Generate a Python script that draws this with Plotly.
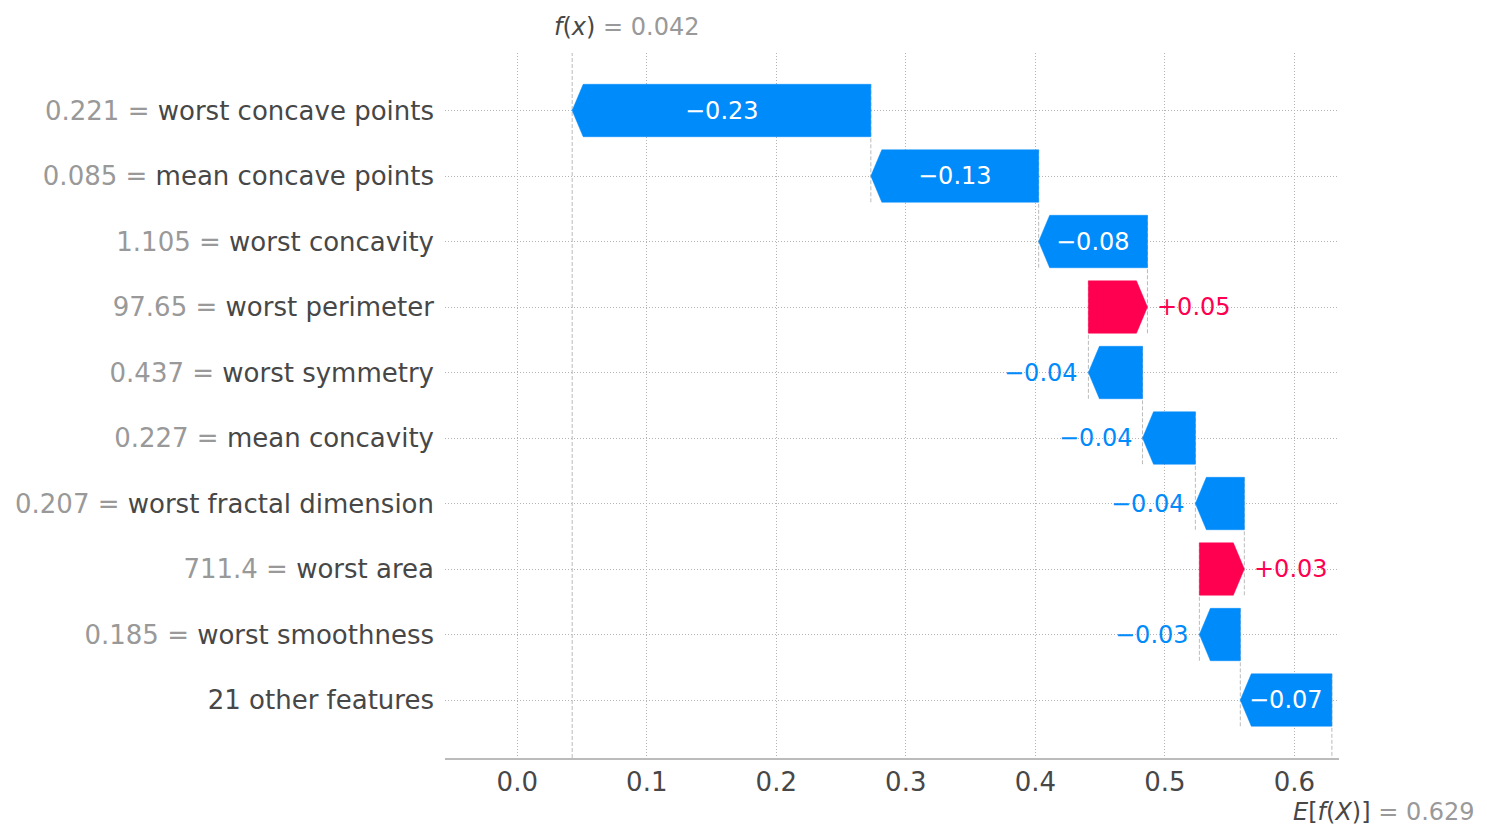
import plotly.graph_objects as go

# ---------------- data ----------------
feature_names = ["worst concave points", "mean concave points", "worst concavity",
                 "worst perimeter", "worst symmetry", "mean concavity",
                 "worst fractal dimension", "worst area", "worst smoothness",
                 "21 other features"]
feature_values = ["0.221", "0.085", "1.105", "97.65", "0.437", "0.227",
                  "0.207", "711.4", "0.185", ""]
shap_values = [-0.2306, -0.1296, -0.0840, 0.0456, -0.0418, -0.0408,
               -0.0378, 0.0347, -0.0316, -0.0707]
base_value = 0.629
x_ticks = [0.0, 0.1, 0.2, 0.3, 0.4, 0.5, 0.6]

# ---------------- style ----------------
W, H = 1487, 840
ML, MR, MT, MB = 445, 148, 53, 82
XR = [-0.0558, 0.6345]
YR = [9.885, -0.878]
RED = "#ff0051"
BLUE = "#008bfb"
GRID = "#b4b4b4"
CONN = "#bbbbbb"
DARK = "#474747"
GRAY = "#999999"
FONT = "DejaVu Sans"
BAR_H = 0.4
px_per_unit = (W - ML - MR) / (XR[1] - XR[0])
HEAD = 11 / px_per_unit

n = len(shap_values)
fx = base_value + sum(shap_values)

# cumulative starts/ends (built from the bottom row upwards)
starts = [0.0] * n
ends = [0.0] * n
pos = base_value
for i in range(n - 1, -1, -1):
    starts[i] = pos
    ends[i] = pos + shap_values[i]
    pos = ends[i]

fig = go.Figure()

# connector dashed lines
for i in range(n):
    fig.add_trace(go.Scatter(
        x=[starts[i], starts[i]], y=[i - BAR_H, i + 1 + BAR_H],
        mode="lines", line=dict(color=CONN, width=1, dash="4px,2px"),
        hoverinfo="skip", showlegend=False))

# f(x) line
fig.add_shape(type="line", xref="x", yref="paper", x0=fx, x1=fx, y0=0, y1=1,
              line=dict(color=CONN, width=1, dash="4px,2px"), layer="below")

# bars as arrow polygons
annotations = []
for i, v in enumerate(shap_values):
    lo, hi = min(starts[i], ends[i]), max(starts[i], ends[i])
    head = min(HEAD, hi - lo)
    if v < 0:
        xs = [hi, lo + head, lo, lo + head, hi, hi]
        color = BLUE
    else:
        xs = [lo, hi - head, hi, hi - head, lo, lo]
        color = RED
    ys = [i - BAR_H, i - BAR_H, i, i + BAR_H, i + BAR_H, i - BAR_H]
    fig.add_trace(go.Scatter(x=xs, y=ys, mode="lines", fill="toself",
                             fillcolor=color, line=dict(color=color, width=0.5),
                             hoverinfo="skip", showlegend=False))
    label = f"{v:+.2f}".replace("-", "\u2212")
    text_px = len(label) * 0.6 * 24
    if (hi - lo) * px_per_unit > text_px:
        annotations.append(dict(x=(lo + hi) / 2, y=i, xref="x", yref="y",
                                text=label, showarrow=False,
                                font=dict(family=FONT, size=24, color="white"),
                                xanchor="center", yanchor="middle"))
    else:
        if v < 0:
            annotations.append(dict(x=lo, y=i, xref="x", yref="y", text=label,
                                    showarrow=False, xanchor="right", xshift=-8,
                                    yanchor="middle",
                                    font=dict(family=FONT, size=24, color=color)))
        else:
            annotations.append(dict(x=hi, y=i, xref="x", yref="y", text=label,
                                    showarrow=False, xanchor="left", xshift=8,
                                    yanchor="middle",
                                    font=dict(family=FONT, size=24, color=color)))

# top / bottom labels
annotations.append(dict(x=fx, y=1, xref="x", yref="paper", xanchor="left",
                        yanchor="middle", yshift=26, xshift=-20, showarrow=False,
                        text=f"<i>f</i>(<i>x</i>) <span style='color:{GRAY}'>= {fx:.3f}</span>",
                        font=dict(family=FONT, size=24, color=DARK)))
annotations.append(dict(x=base_value, y=0, xref="x", yref="paper", xanchor="left",
                        yanchor="middle", yshift=-54, xshift=-41, showarrow=False,
                        text=f"<i>E</i>[<i>f</i>(<i>X</i>)] <span style='color:{GRAY}'>= {base_value:.3f}</span>",
                        font=dict(family=FONT, size=24, color=DARK)))

ticktext = []
for val, name in zip(feature_values, feature_names):
    if val:
        ticktext.append(f"<span style='color:{GRAY}'>{val} =</span> {name}")
    else:
        ticktext.append(name)

fig.update_layout(
    width=W, height=H,
    margin=dict(l=ML, r=MR, t=MT, b=MB, pad=0),
    plot_bgcolor="white", paper_bgcolor="white",
    font=dict(family=FONT, color=DARK),
    annotations=annotations,
    xaxis=dict(range=XR, tickvals=x_ticks, ticktext=[f"{t:.1f}" for t in x_ticks],
               showgrid=True, gridcolor=GRID, griddash="1px,2px", gridwidth=1,
               showline=True, linecolor="#bbbbbb", linewidth=2, zeroline=False,
               ticks="", ticklabelstandoff=0,
               tickfont=dict(family=FONT, size=26, color=DARK)),
    yaxis=dict(range=YR, tickvals=list(range(n)), ticktext=ticktext,
               showgrid=True, gridcolor=GRID, griddash="1px,2px", gridwidth=1,
               showline=False, zeroline=False, ticks="", ticklabelstandoff=10,
               tickfont=dict(family=FONT, size=26, color=DARK)),
)

fig.write_html("out.html")
